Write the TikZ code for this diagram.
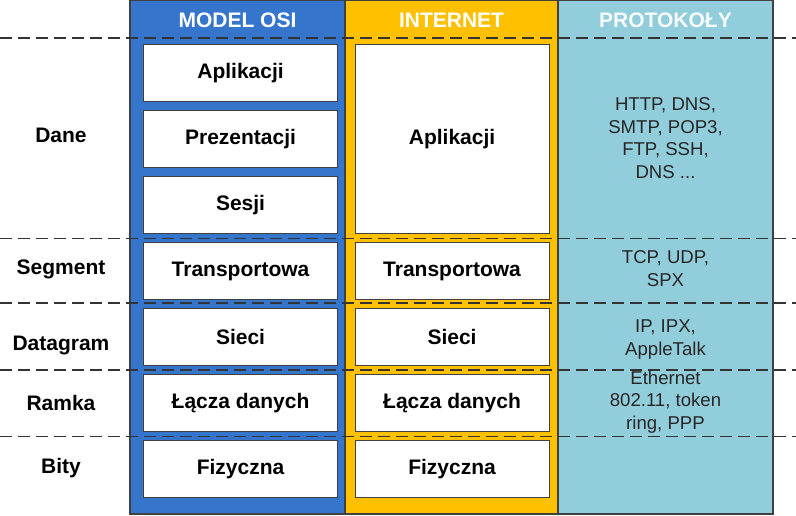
\documentclass[tikz,border=0pt]{standalone}
\usepackage{fontspec}
\setmainfont{Liberation Sans}
\begin{document}
\begin{tikzpicture}[x=1pt,y=-1pt,
  colbox/.style={draw=black!75, line width=1.3pt},
  layer/.style={draw=black!75, fill=white, line width=1.1pt, minimum width=194pt, minimum height=57pt, anchor=north west, inner sep=0pt, font=\fontsize{21}{25}\selectfont\bfseries},
  head/.style={font=\fontsize{21}{25}\selectfont\bfseries, text=white},
  side/.style={font=\fontsize{21}{25}\selectfont\bfseries},
  proto/.style={font=\fontsize{18.6}{22.7}\selectfont, align=center, text=black!85},
  sep/.style={dashed, dash pattern=on 12pt off 6pt, line width=1.3pt, draw=black!80}]
\useasboundingbox (0,0) rectangle (796,515);
\definecolor{osiblue}{RGB}{54,117,204}
\definecolor{netyellow}{RGB}{255,192,0}
\definecolor{prototeal}{RGB}{146,205,220}
% columns
\filldraw[colbox, fill=osiblue] (130,0) rectangle (345,514);
\filldraw[colbox, fill=netyellow] (345,0) rectangle (558,514);
\filldraw[colbox, fill=prototeal] (558,0) rectangle (773,514);
% headers
\node[head] (h1) at (237.5,20) {MODEL OSI};
\node[head] (h2) at (451.5,20) {INTERNET};
\node[head, text=white!92!prototeal] (h3) at (665.5,20) {PROTOKOŁY};
% OSI layers
\node[layer] (o1) at (143,44) {Aplikacji};
\node[layer] (o2) at (143,110) {Prezentacji};
\node[layer] (o3) at (143,176) {Sesji};
\node[layer] (o4) at (143,242) {Transportowa};
\node[layer] (o5) at (143,308) {Sieci};
\node[layer] (o6) at (143,374) {Łącza danych};
\node[layer] (o7) at (143,440) {Fizyczna};
% Internet layers
\node[layer, minimum height=189pt] (i1) at (354.5,44) {Aplikacji};
\node[layer] (i4) at (354.5,242) {Transportowa};
\node[layer] (i5) at (354.5,308) {Sieci};
\node[layer] (i6) at (354.5,374) {Łącza danych};
\node[layer] (i7) at (354.5,440) {Fizyczna};
% separators
\draw[sep] (0,38) -- (796,38);
\draw[sep] (0,238.5) -- (796,238.5);
\draw[sep] (0,303) -- (796,303);
\draw[sep] (0,370) -- (796,370);
\draw[sep] (0,436.5) -- (796,436.5);
% side labels
\node[side] (s1) at (61,135) {Dane};
\node[side] (s2) at (61,269) {Segment};
\node[side] (s3) at (61,345) {Datagram};
\node[side] (s4) at (61,403) {Ramka};
\node[side] (s5) at (61,468) {Bity};
% protocols
\node[proto] (p1) at (665.5,138) {HTTP, DNS,\\SMTP, POP3,\\FTP, SSH,\\DNS ...};
\node[proto] (p2) at (665.5,268.5) {TCP, UDP,\\SPX};
\node[proto] (p3) at (665.5,339.5) {IP, IPX,\\AppleTalk};
\node[proto] (p4) at (665.5,402) {Ethernet\\802.11, token\\ring, PPP};
\end{tikzpicture}
\end{document}
